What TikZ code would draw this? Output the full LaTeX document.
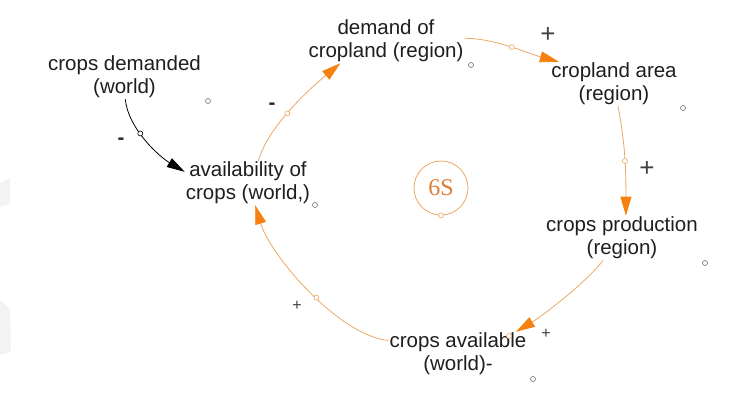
\documentclass[tikz,border=0pt]{standalone}
\usepackage{fontspec}
\setmainfont{Liberation Sans}
\newfontfamily\loopfont{Liberation Serif}
\usetikzlibrary{arrows.meta}
\definecolor{cldtext}{RGB}{30,30,30}
\definecolor{cldline}{RGB}{234,168,100}
\definecolor{cldhead}{RGB}{247,129,16}
\definecolor{cldring}{RGB}{110,110,110}
\definecolor{cldloop}{RGB}{226,124,52}
\definecolor{cldshade}{RGB}{243,243,243}

\begin{document}
\begin{tikzpicture}[
  x=1pt,y=-1pt,
  every node/.style={font=\fontsize{20.5}{23}\selectfont,text=cldtext},
  varbox/.style={align=center,inner sep=1pt},
  link/.style={draw=cldline,line width=0.8pt,
               -{Triangle[length=19pt,width=11pt,color=cldhead]}},
  blink/.style={draw=black,line width=0.8pt,-{Triangle[length=18pt,width=10pt]}},
  ring/.style={circle,draw=cldring,fill=white,line width=0.6pt,
               minimum size=5pt,inner sep=0pt},
  oring/.style={ring,draw=cldline},
  bigsign/.style={inner sep=0pt,font=\fontsize{26}{26}\selectfont,text=black!75},
  smallsign/.style={inner sep=0pt,font=\fontsize{16}{16}\selectfont,text=black!75},
  minus/.style={inner sep=0pt,font=\bfseries\fontsize{20.5}{23}\selectfont,text=black!85},
  loopmark/.style={circle,draw=cldline,line width=0.8pt,minimum size=54pt,inner sep=0pt,
                   font=\loopfont\fontsize{24}{24}\selectfont,text=cldloop},
]
  \useasboundingbox (0,0) rectangle (736,399);

  % Faint shapes at the left edge
  \fill[cldshade] (0,183) -- (10,178) -- (10,204) -- (0,207) -- cycle;
  \fill[cldshade] (0,300) -- (10,309) -- (11,352) -- (0,355) -- cycle;

  % Variables
  \node[varbox] (cropsDem) at (124.5,77) {crops demanded\\(world)};
  \node[varbox] (avail) at (248,183) {availability of\\crops (world,)};
  \node[varbox] (demCrop) at (386,41) {demand of\\cropland (region)};
  \node[varbox] (cropArea) at (614,84) {cropland area\\(region)};
  \node[varbox] (cropProd) at (622,238) {crops production\\(region)};
  \node[varbox] (cropAvail) at (458,354) {crops available\\(world)-};

  % Handles next to the variables
  \node[ring] (hCropsDem) at (208,101) {};
  \node[ring] (hAvail) at (315,205) {};
  \node[ring] (hDemCrop) at (471,65) {};
  \node[ring] (hCropArea) at (683,108) {};
  \node[ring] (hCropProd) at (705,263) {};
  \node[ring] (hCropAvail) at (533,379) {};

  % Loop symbol
  \node[loopmark] (loopSym) at (441,188) {6S};
  \node[oring] (hLoop) at (loopSym.south) {};

  % Links
  \draw[blink] (cropsDem.-88) .. controls +(3,30) and +(-25,-15) .. (avail.170)
    node[pos=0.4,ring,draw=black] (rA) {};
  \draw[link] (avail.65) .. controls +(10,-35) and +(-30,25) .. (demCrop.-154)
    node[pos=0.45,oring] (rB) {};
  \draw[link] (demCrop.2) .. controls +(30,0) and +(-30,-8) .. (cropArea.158)
    node[pos=0.5,oring] (rC) {};
  \draw[link] (cropArea.-80) .. controls +(8,40) and +(0,-40) .. (cropProd.80)
    node[pos=0.5,oring] (rD) {};
  \draw[link] (cropProd.-130) .. controls +(-20,25) and +(25,-15) .. (cropAvail.21);
  \node[oring] (rE) at (509,336) {};
  \draw[link] (cropAvail.169) .. controls +(-50,-5) and +(15,50) .. (avail.-72)
    node[pos=0.45,oring] (rF) {};

  % Polarities
  \node[minus] (sA) at (121,141) {-};
  \node[minus] (sB) at (272,106) {-};
  \node[bigsign] (sC) at (548,35) {+};
  \node[bigsign] (sD) at (647,169) {+};
  \node[smallsign] (sE) at (546,334) {+};
  \node[smallsign] (sF) at (297,306) {+};
\end{tikzpicture}
\end{document}
